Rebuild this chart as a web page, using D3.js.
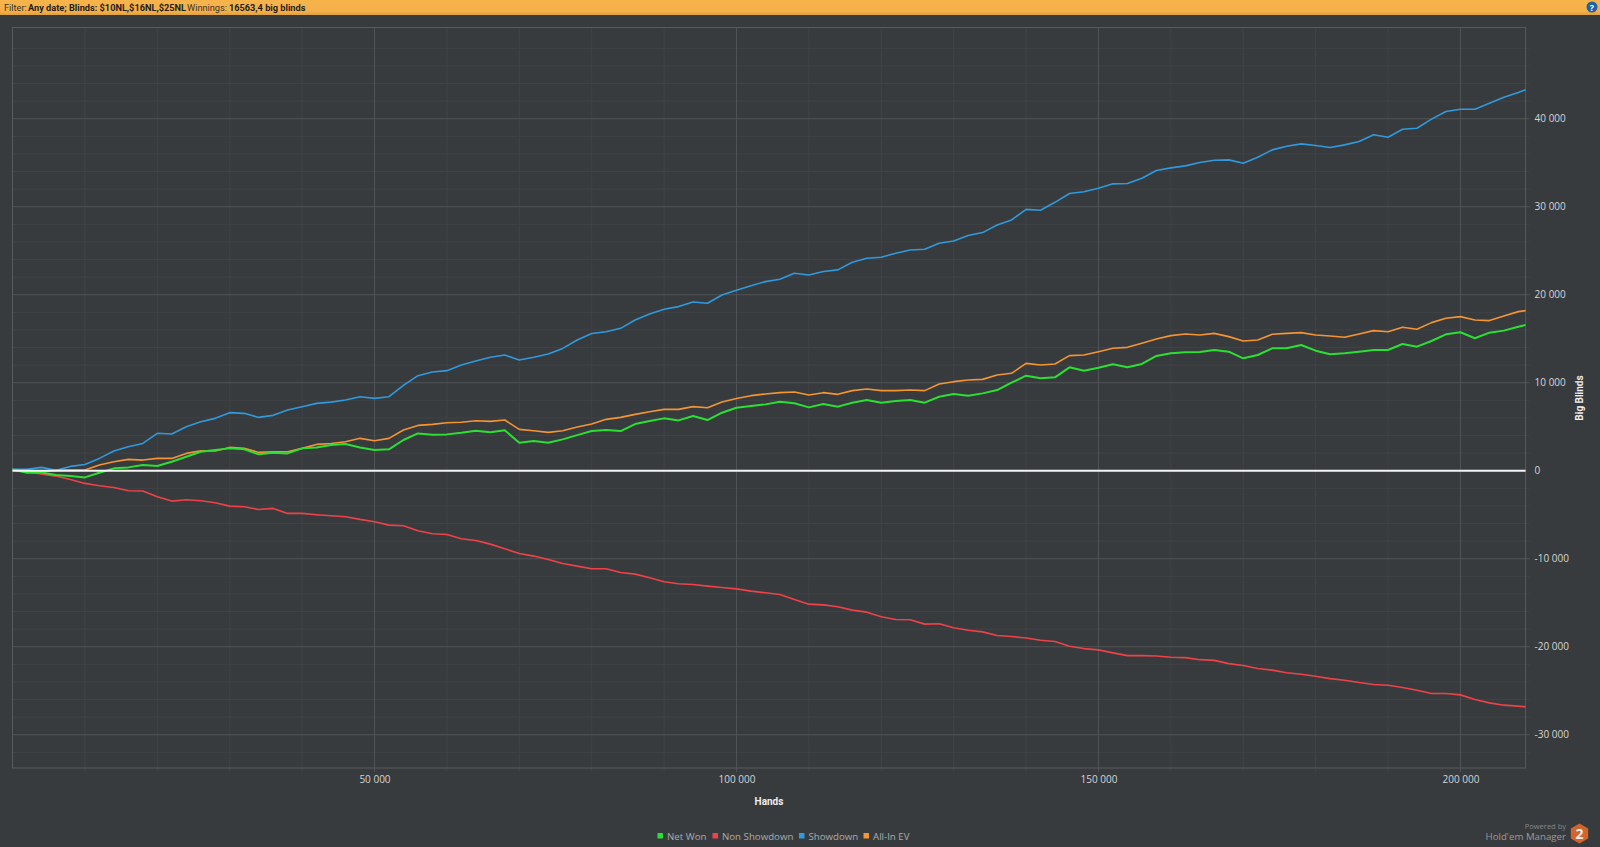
<!DOCTYPE html>
<html>
<head>
<meta charset="utf-8">
<script src="https://cdn.jsdelivr.net/npm/d3@7"></script>
<style>
  html, body { margin: 0; padding: 0; background: #383b3e; overflow: hidden; }
  text { font-family: "Open Sans", "Noto Sans", sans-serif; }
</style>
</head>
<body>
<script>
// values, one point every 2000 hands + the last hand
var hands = d3.range(0, 208001, 2000).concat([209000]);

var netWon = [150,-230,-190,-490,-610,-760,-230,270,380,640,530,1020,1590,2160,2350,2540,2430,1860,2050,1970,2540,2650,2920,3030,2650,
  2350,2430,3490,4240,4090,4130,4320,4550,4360,4590,3180,3370,3180,3560,4050,4510,4620,4510,5300,5650,5950,5720,6220,5760,6590,
  7160,7350,7540,7850,7660,7200,7580,7280,7730,8030,7730,7920,8030,7730,8410,8720,8530,8790,9170,10000,10800,10500,10610,11750,11370,
  11710,12090,11750,12130,13040,13340,13450,13490,13720,13530,12770,13150,13910,13910,14290,13640,13230,13340,13530,13720,13720,14400,14100,14740,15500,
  15730,15050,15690,15920,16370,16563];

var nonShowdown = [80,-110,-380,-610,-990,-1440,-1700,-1900,-2270,-2310,-2960,-3450,-3300,-3410,-3640,-4020,-4090,-4400,-4280,-4850,-4850,-5000,-5120,-5230,-5530,
  -5790,-6180,-6250,-6820,-7160,-7240,-7730,-7920,-8340,-8870,-9400,-9700,-10080,-10540,-10840,-11140,-11140,-11560,-11750,-12170,-12620,-12850,-12920,-13110,-13270,
  -13430,-13680,-13870,-14060,-14630,-15160,-15240,-15460,-15840,-16070,-16600,-16900,-16940,-17430,-17390,-17850,-18120,-18310,-18730,-18840,-19000,-19260,-19410,-19940,-20210,
  -20360,-20700,-21010,-21010,-21050,-21200,-21240,-21470,-21550,-21920,-22130,-22470,-22660,-22960,-23120,-23350,-23620,-23800,-24070,-24300,-24370,-24640,-24940,-25320,-25320,
  -25470,-26000,-26380,-26640,-26750,-26830];

var showdown = [150,150,380,40,490,700,1400,2240,2730,3100,4250,4170,5000,5570,5950,6600,6520,6060,6290,6900,7280,7650,7800,8030,8400,
  8220,8410,9700,10800,11220,11370,12010,12470,12890,13150,12580,12890,13260,13900,14860,15600,15800,16180,17130,17810,18340,18650,19180,19030,19970,
  20500,21030,21490,21750,22440,22250,22630,22820,23690,24140,24260,24710,25090,25170,25850,26110,26720,27060,27930,28500,29700,29600,30500,31500,31700,
  32100,32600,32640,33240,34110,34410,34640,35020,35280,35320,34940,35630,36460,36880,37140,36950,36720,37030,37410,38170,37900,38810,38920,39950,40820,
  41080,41080,41770,42450,42980,43280];

var allInEV = [50,-40,-100,40,80,80,640,1020,1290,1210,1400,1400,1970,2270,2240,2650,2540,2080,2160,2160,2540,2990,3100,3300,3680,
  3410,3680,4620,5150,5270,5460,5500,5680,5610,5760,4700,4550,4360,4550,4960,5300,5840,6060,6400,6710,6970,6970,7280,7160,7810,
  8200,8530,8720,8870,8940,8600,8870,8680,9100,9290,9100,9100,9170,9100,9850,10120,10310,10380,10880,11070,12200,12010,12130,13080,13150,
  13530,13910,14020,14480,14970,15350,15540,15430,15610,15240,14740,14860,15500,15610,15690,15430,15310,15160,15540,15920,15800,16300,16070,16830,17320,
  17510,17130,17060,17590,18080,18190];

var xMajor = [50000, 100000, 150000, 200000];
var xMinor = [10000,20000,30000,40000,60000,70000,80000,90000,110000,120000,130000,140000,160000,170000,180000,190000];
var yMajor = [-30000,-20000,-10000,10000,20000,30000,40000];
var yMinor = d3.range(-32000, 50000, 2000).filter(function(d) { return d % 10000 != 0; });

var seriesNames = ["Net Won", "Non Showdown", "Showdown", "All-In EV"];
var seriesColors = ["#2ae033", "#ee4248", "#2f9ade", "#f59432"];
var seriesValues = [netWon, nonShowdown, showdown, allInEV];

var svg = d3.select("body").append("svg").attr("width", 1600).attr("height", 847).style("display", "block"),
    left = 12.5, right = 1525.6, top_ = 27.5, bottom = 768;

var x = d3.scaleLinear().domain([0, 209000]).range([left, right]);
var y = d3.scaleLinear().domain([-33780, 50365]).range([bottom, top_]);

var fmt = d3.formatLocale({decimal: ",", thousands: " ", grouping: [3], currency: ["", ""], minus: "-"}).format(",d");

svg.append("rect").attr("width", 1600).attr("height", 847).attr("fill", "#383b3e");

// filter bar
var grad = svg.append("defs").append("linearGradient").attr("id", "bar").attr("x2", 0).attr("y2", 1);
grad.append("stop").attr("offset", "0%").attr("stop-color", "#f7b44b");
grad.append("stop").attr("offset", "75%").attr("stop-color", "#f5b049");
grad.append("stop").attr("offset", "100%").attr("stop-color", "#dd9f45");
svg.append("rect").attr("width", 1600).attr("height", 15).attr("fill", "url(#bar)");

// one text with tspans, Roboto is narrow enough to stay in the measured widths
var head = svg.append("text").attr("y", 11).attr("font-size", 9.2).attr("fill", "#1c1c1c").style("font-family", "Roboto");
head.append("tspan").attr("x", 4).attr("fill", "#3a3326").text("Filter:");
head.append("tspan").attr("x", 28).attr("font-weight", 700).text("Any date; Blinds: $10NL,$16NL,$25NL");
head.append("tspan").attr("x", 187).attr("fill", "#3a3326").text("Winnings:");
head.append("tspan").attr("x", 229).attr("font-weight", 700).text("16563,4 big blinds");

svg.append("circle").attr("cx", 1592).attr("cy", 7).attr("r", 5.5).attr("fill", "#1b63a8");
svg.append("text").attr("x", 1592).attr("y", 10.5).attr("text-anchor", "middle")
    .attr("font-size", 9).attr("font-weight", 700).attr("fill", "#fff").text("?");

// grid
function gridX(vals, color) {
  svg.append("g").selectAll("line").data(vals).enter().append("line")
      .attr("x1", function(d) { return x(d); }).attr("x2", function(d) { return x(d); })
      .attr("y1", top_).attr("y2", bottom + 4)
      .attr("stroke", color).attr("stroke-width", 1);
}
function gridY(vals, color) {
  svg.append("g").selectAll("line").data(vals).enter().append("line")
      .attr("x1", left).attr("x2", right + 4)
      .attr("y1", function(d) { return y(d); }).attr("y2", function(d) { return y(d); })
      .attr("stroke", color).attr("stroke-width", 1);
}
gridX(xMinor, "#404346");
gridY(yMinor, "#404346");
gridX(xMajor, "#515457");
gridY(yMajor, "#515457");

svg.append("rect").attr("x", left).attr("y", top_).attr("width", right - left).attr("height", bottom - top_)
    .attr("fill", "none").attr("stroke", "#585b5e").attr("stroke-width", 1);

// axes, only the labels are kept
var xAxis = svg.append("g").attr("transform", "translate(0," + bottom + ")")
    .call(d3.axisBottom(x).tickValues(xMajor).tickSize(0).tickPadding(8).tickFormat(fmt));
var yAxis = svg.append("g").attr("transform", "translate(" + right + ",0)")
    .call(d3.axisRight(y).tickValues(yMajor.concat([0])).tickSize(0).tickPadding(9).tickFormat(fmt));
xAxis.select(".domain").remove();
yAxis.select(".domain").remove();
svg.selectAll(".tick text").attr("font-family", "'Open Sans'").attr("font-size", 10).attr("fill", "#d4d5d6");

svg.append("text").attr("x", 769).attr("y", 805).attr("text-anchor", "middle").style("font-family", "Roboto")
    .attr("font-size", 10).attr("font-weight", 700).attr("fill", "#eeeeee").text("Hands");
svg.append("text").attr("transform", "translate(1583,398) rotate(-90)").attr("text-anchor", "middle").style("font-family", "Roboto")
    .attr("font-size", 10).attr("font-weight", 700).attr("fill", "#eeeeee").text("Big Blinds");

// lines, red and blue first, green lies on top of orange
var line = d3.line().x(function(d) { return x(d[0]); }).y(function(d) { return y(d[1]); });
[1, 2, 3, 0].forEach(function(i) {
  svg.append("path")
      .datum(hands.map(function(h, j) { return [h, seriesValues[i][j]]; }))
      .attr("d", line)
      .attr("fill", "none")
      .attr("stroke", seriesColors[i])
      .attr("stroke-width", i == 0 ? 2 : 1.6)
      .attr("stroke-linejoin", "round");
});

// zero line
svg.append("line").attr("x1", left).attr("x2", right).attr("y1", y(0)).attr("y2", y(0))
    .attr("stroke", "#f4f4f4").attr("stroke-width", 2);

// legend
var legendX = [657.5, 712.5, 799, 863.5];
var legend = svg.append("g").selectAll("g").data(seriesNames).enter().append("g")
    .attr("transform", function(d, i) { return "translate(" + legendX[i] + ",836)"; });
legend.append("rect").attr("x", 0).attr("y", -3).attr("width", 5.5).attr("height", 5.5)
    .attr("fill", function(d, i) { return seriesColors[i]; });
legend.append("text").attr("x", 9.5).attr("y", 3.5).attr("font-size", 9.7).attr("fill", "#a9abac")
    .text(function(d) { return d; });

// logo
svg.append("text").attr("x", 1566).attr("y", 829).attr("text-anchor", "end")
    .attr("font-size", 7.5).attr("fill", "#85888a").text("Powered by");
svg.append("text").attr("x", 1566).attr("y", 840).attr("text-anchor", "end")
    .attr("font-size", 9.7).attr("fill", "#989a9b").text("Hold'em Manager");
var hex = d3.range(6).map(function(i) {
  var a = Math.PI / 3 * i;
  return [1579.5 + 10 * Math.sin(a), 833.5 - 10 * Math.cos(a)];
});
svg.append("polygon").attr("points", hex.join(" ")).attr("fill", "#d2652b");
svg.append("text").attr("x", 1579.5).attr("y", 838.5).attr("text-anchor", "middle")
    .attr("font-size", 14).attr("font-weight", 700).attr("fill", "#eee").text("2");
</script>
</body>
</html>
